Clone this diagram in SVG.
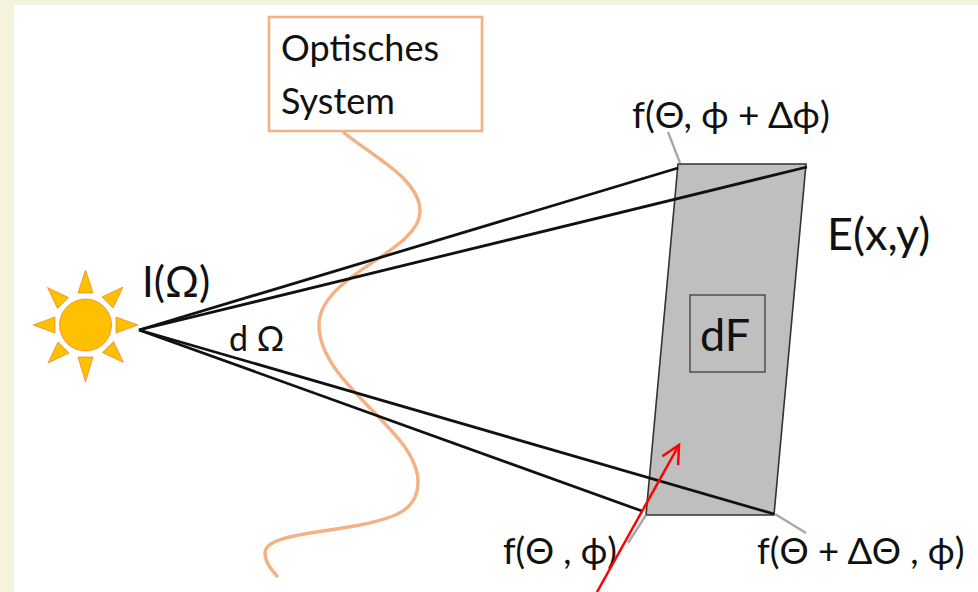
<svg xmlns="http://www.w3.org/2000/svg" width="978" height="592" viewBox="0 0 978 592">
<style>
text{font-family:"Lato","Open Sans","Liberation Sans",sans-serif;fill:#111}
.ray{fill:#ffc000;stroke:#ed7d31;stroke-width:1;stroke-opacity:.7}
.beam{stroke:#111;stroke-width:2.8;fill:none}
.lead{stroke:#a8a8a8;stroke-width:2.4;fill:none}
</style>
<defs>
<polygon id="ray2" class="ray" points="123,287 102,297 113,308"/>
<marker id="open" markerWidth="24" markerHeight="24" refX="20" refY="12" orient="auto" markerUnits="userSpaceOnUse"><path d="M2,3 L20,12 L2,21" fill="none" stroke="#f00" stroke-width="2.5"/></marker>
</defs>
<rect width="978" height="592" fill="#f5f3dc"/>
<rect x="14" y="5" width="964" height="587" fill="#fff"/>
<g id="curve"><path d="M343,132 C375,158 421,180 420,212 C419,252 319,275 319,325 C319,385 418,430 418,482 C418,510 395,518 360,525 C320,533 265,535 265,553 C265,563 272,570 278,577" fill="none" stroke="#f4b183" stroke-width="3.4"/></g>
<g id="system"><rect x="269" y="17" width="213" height="114" fill="#fff" stroke="#f4b183" stroke-width="2.6"/>
<text x="281" y="61" font-size="36">Optisches</text><text x="281" y="114" font-size="36">System</text></g>
<g id="sun">
<circle cx="85.500" cy="325" r="26" fill="#ffc000" stroke="#ed7d31" stroke-opacity=".7"/>
<polygon class="ray" points="85.500,270 93,293 78,293"/>
<polygon class="ray" points="85.500,382 93,357 78,357"/>
<polygon class="ray" points="138,325 116,317 116,333"/>
<polygon class="ray" points="33,325 55,317 55,333"/>
<use href="#ray2"/><use href="#ray2" transform="rotate(90 85.500 325)"/><use href="#ray2" transform="rotate(180 85.500 325)"/><use href="#ray2" transform="rotate(270 85.500 325)"/>
</g>
<g id="intensity"><text x="142" y="297" font-size="42">I(Ω)</text></g>
<g id="solid-angle"><text x="229" y="351" font-size="34">d Ω</text></g>
<g id="surface"><polygon points="678,164 806,164 774,515 646,515" fill="#bfbfbf" stroke="#333" stroke-width="1.6"/></g>
<g id="dF"><rect x="690" y="295" width="75" height="77" fill="#bfbfbf" stroke="#333" stroke-width="1.2"/><text x="700" y="351" font-size="45">dF</text></g>
<g id="label-e"><text x="827" y="250" font-size="45">E(x,y)</text></g>
<g id="label-top"><text x="632" y="128" font-size="37">f(Θ, ϕ + Δϕ)</text></g>
<g id="label-bl"><text x="503" y="564" font-size="36">f(Θ , ϕ)</text></g>
<g id="label-br"><text x="757" y="564" font-size="36.500">f(Θ + ΔΘ , ϕ)</text></g>
<g id="connectors">
<path class="lead" d="M668,132 L680,163"/><path class="lead" d="M775,514 L806,533"/><path class="lead" d="M646,515 L628,543"/>
<path class="beam" d="M139,330 L678,168"/><path class="beam" d="M139,330 L807,167"/>
<path class="beam" d="M139,330 L642,511"/><path class="beam" d="M139,330 L774,514"/>
<path d="M597,592 L679,445" fill="none" stroke="#f00" stroke-width="2.5" marker-end="url(#open)"/>
</g>
</svg>
